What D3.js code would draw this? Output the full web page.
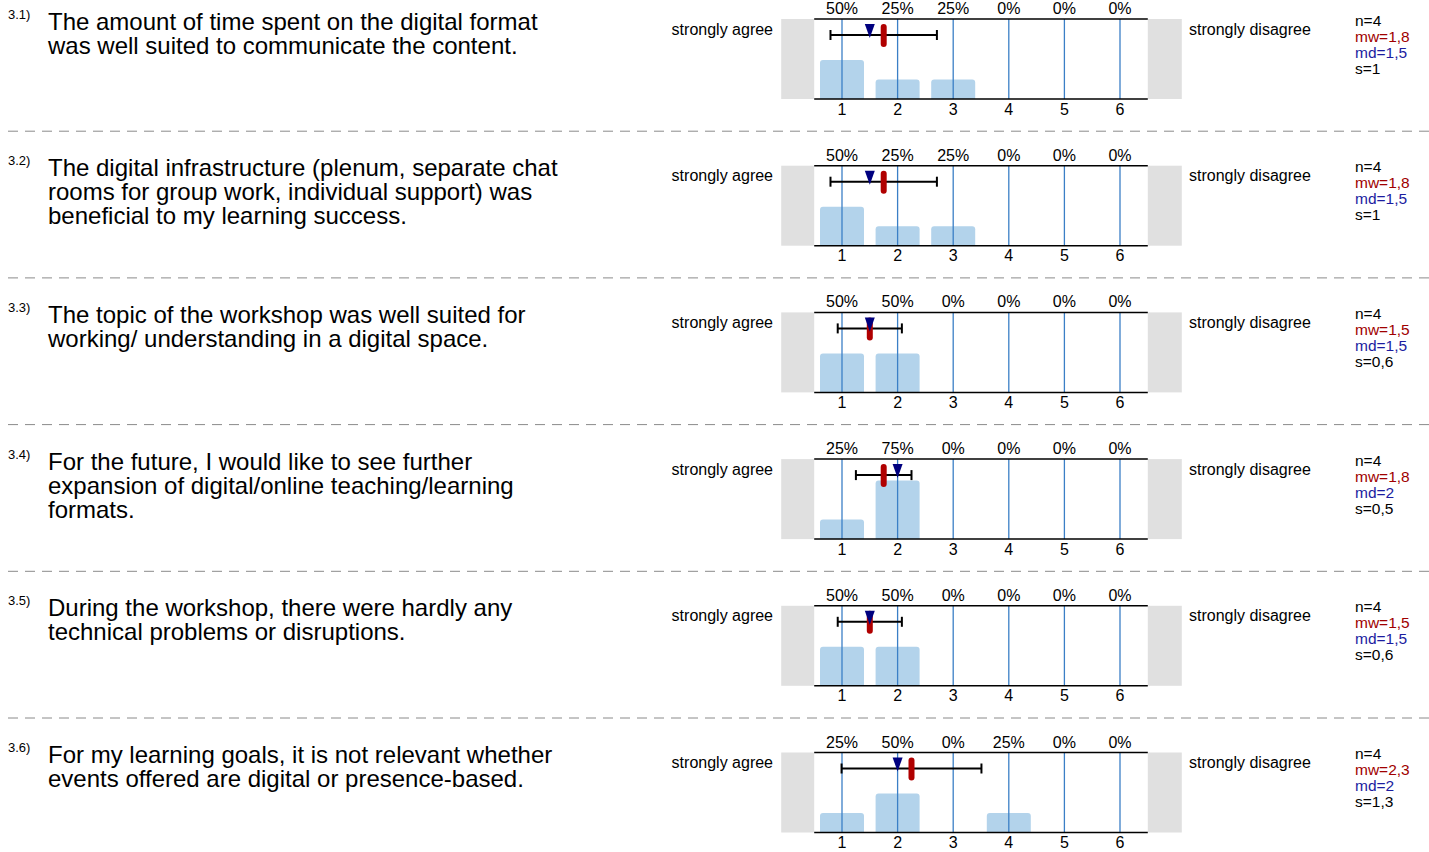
<!DOCTYPE html>
<html><head><meta charset="utf-8">
<script src="https://cdn.jsdelivr.net/npm/d3@7"></script>
<style>body{margin:0;background:#fff}svg{display:block;font-family:"Liberation Sans",Arial,sans-serif}</style>
</head><body><svg id="c" width="1429" height="852"></svg>
<script>
const qNumbers = ["3.1)","3.2)","3.3)","3.4)","3.5)","3.6)"];
const questions = [
  ["The amount of time spent on the digital format","was well suited to communicate the content."],
  ["The digital infrastructure (plenum, separate chat","rooms for group work, individual support) was","beneficial to my learning success."],
  ["The topic of the workshop was well suited for","working/ understanding in a digital space."],
  ["For the future, I would like to see further","expansion of digital/online teaching/learning","formats."],
  ["During the workshop, there were hardly any","technical problems or disruptions."],
  ["For my learning goals, it is not relevant whether","events offered are digital or presence-based."]
];
const scalePoints = [1,2,3,4,5,6];
const percents = [
  [50,25,25,0,0,0],
  [50,25,25,0,0,0],
  [50,50,0,0,0,0],
  [25,75,0,0,0,0],
  [50,50,0,0,0,0],
  [25,50,0,25,0,0]
];
const means = [1.75,1.75,1.5,1.75,1.5,2.25];
const medians = [1.5,1.5,1.5,2,1.5,2];
const sds = [0.957,0.957,0.577,0.5,0.577,1.258];
const nLabels = ["4","4","4","4","4","4"];
const mwLabels = ["1,8","1,8","1,5","1,8","1,5","2,3"];
const mdLabels = ["1,5","1,5","1,5","2","1,5","2"];
const sLabels = ["1","1","0,6","0,5","0,6","1,3"];
const leftLabel = "strongly agree";
const rightLabel = "strongly disagree";

const svg = d3.select("#c");
const rowStep = 146.7;
const x = d3.scaleLinear().domain([1,6]).range([842,1120]);
const pTop = 19, pBottom = 99;
const yb = d3.scaleLinear().domain([0,100]).range([pBottom, 21]);
const bw = 44;

questions.forEach((q,i)=>{
  const g = svg.append("g").attr("transform",`translate(0,${i*rowStep})`);
  if(i>0){
    g.append("line").attr("x1",8).attr("x2",1429).attr("y1",-15.5).attr("y2",-15.5)
      .attr("stroke","#8a8a8a").attr("stroke-width",1).attr("stroke-dasharray","10,7");
  }
  g.append("text").attr("x",8).attr("y",18.5).attr("font-size",13).text(qNumbers[i]);
  q.forEach((line,k)=>{
    g.append("text").attr("x",48).attr("y",29.5+k*24).attr("font-size",24).attr("fill","#000").text(line);
  });
  g.append("text").attr("x",773).attr("y",34.5).attr("text-anchor","end").attr("font-size",16).text(leftLabel);
  g.append("text").attr("x",1189).attr("y",34.5).attr("font-size",16).text(rightLabel);
  const xl = x(0.5), xr = x(6.5);
  g.append("rect").attr("x",xl-33).attr("y",pTop).attr("width",33).attr("height",pBottom-pTop).attr("fill","#e0e0e0");
  g.append("rect").attr("x",xr).attr("y",pTop).attr("width",34).attr("height",pBottom-pTop).attr("fill","#e0e0e0");
  g.selectAll("rect.bar").data(percents[i]).join("rect").attr("class","bar")
    .attr("x",(d,j)=>x(scalePoints[j])-bw/2).attr("width",bw)
    .attr("y",d=>yb(d)).attr("height",d=>pBottom-yb(d)+3)
    .attr("rx",d=>d>0?3:0).attr("fill","#b3d3eb").attr("display",d=>d>0?null:"none");
  g.append("rect").attr("x",xl).attr("y",pBottom).attr("width",xr-xl).attr("height",4).attr("fill","#fff");
  g.selectAll("line.grid").data(scalePoints).join("line").attr("class","grid")
    .attr("x1",d=>x(d)).attr("x2",d=>x(d)).attr("y1",pTop).attr("y2",pBottom)
    .attr("stroke","#3b7fc6").attr("stroke-width",1.3);
  g.append("line").attr("x1",xl).attr("x2",xr).attr("y1",pTop).attr("y2",pTop).attr("stroke","#000").attr("stroke-width",1.5);
  g.append("line").attr("x1",xl).attr("x2",xr).attr("y1",pBottom).attr("y2",pBottom).attr("stroke","#000").attr("stroke-width",1.5);
  g.selectAll("text.pct").data(percents[i]).join("text").attr("class","pct")
    .attr("x",(d,j)=>x(scalePoints[j])).attr("y",14).attr("text-anchor","middle").attr("font-size",16).text(d=>d+"%");
  g.selectAll("text.tick").data(scalePoints).join("text").attr("class","tick")
    .attr("x",d=>x(d)).attr("y",114.5).attr("text-anchor","middle").attr("font-size",16).text(d=>d);
  const ey = 35, lo = x(means[i]-sds[i]), hi = x(means[i]+sds[i]);
  g.append("line").attr("x1",lo).attr("x2",hi).attr("y1",ey).attr("y2",ey).attr("stroke","#000").attr("stroke-width",2);
  [lo,hi].forEach(v=>g.append("line").attr("x1",v).attr("x2",v).attr("y1",ey-5).attr("y2",ey+5).attr("stroke","#000").attr("stroke-width",2));
  g.append("rect").attr("x",x(means[i])-3).attr("y",24).attr("width",6).attr("height",23).attr("rx",3).attr("fill","#b00000");
  const mx = x(medians[i]);
  g.append("path").attr("d",`M${mx-5},24 L${mx+5},24 L${mx},38 Z`).attr("fill","#00007f");
  const st = [["n="+nLabels[i],"#000"],["mw="+mwLabels[i],"#a00000"],["md="+mdLabels[i],"#1c1ca0"],["s="+sLabels[i],"#000"]];
  st.forEach((s,k)=>g.append("text").attr("x",1355).attr("y",25.5+k*16).attr("font-size",15.5).attr("fill",s[1]).text(s[0]));
});
</script></body></html>
